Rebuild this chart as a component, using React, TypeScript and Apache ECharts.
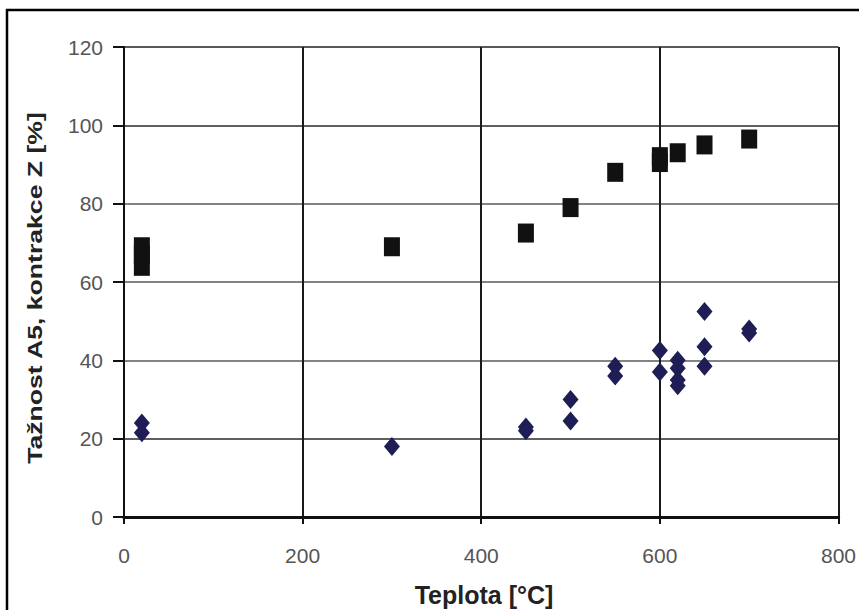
import React, { useEffect, useRef } from "react";
import * as echarts from "echarts";

// Data
const squareX = [20, 20, 20, 300, 450, 500, 550, 600, 600, 620, 650, 700];
const squareY = [69, 67, 64, 69, 72.5, 79, 88, 92, 90.5, 93, 95, 96.5];
const diamondX = [20, 20, 300, 450, 450, 500, 500, 550, 550, 600, 600, 620, 620, 620, 620, 650, 650, 650, 700, 700];
const diamondY = [24, 21.5, 18, 23, 22, 30, 24.5, 38.5, 36, 42.5, 37, 40, 38, 35, 33.5, 52.5, 43.5, 38.5, 48, 47];
const xTitle = "Teplota [°C]";
const yTitle = "Tažnost A5, kontrakce Z [%]";

const TICK_FONT = '"Liberation Sans Narrow", "Liberation Sans", Arial, sans-serif';
const TITLE_FONT = '"Liberation Sans", Arial, sans-serif';

export default function App() {
  const ref = useRef<HTMLDivElement>(null);

  useEffect(() => {
    if (!ref.current) return;
    const chart = echarts.init(ref.current, undefined, { renderer: "svg" });
    const squares = squareX.map((x, i) => [x, squareY[i]]);
    const diamonds = diamondX.map((x, i) => [x, diamondY[i]]);
    const tickLabel = { fontFamily: TICK_FONT, fontSize: 21, color: "#555" };

    chart.setOption({
      animation: false,
      backgroundColor: "#fff",
      grid: { left: 124, right: 19, top: 47, bottom: 93 },
      xAxis: [
        {
          type: "value",
          min: 0,
          max: 800,
          interval: 200,
          axisLine: { show: true, lineStyle: { color: "#111", width: 3 } },
          axisTick: { show: true, inside: false, length: 7, lineStyle: { color: "#111", width: 2 } },
          axisLabel: { ...tickLabel, margin: 28 },
          splitLine: { show: true, lineStyle: { color: "#1a1a1a", width: 2 } },
        },
        {
          type: "value",
          position: "top",
          min: 0,
          max: 800,
          interval: 200,
          axisLine: { show: true, lineStyle: { color: "#111", width: 3 } },
          axisTick: { show: false },
          axisLabel: { show: false },
          splitLine: { show: false },
        },
      ],
      yAxis: [
        {
          type: "value",
          min: 0,
          max: 120,
          interval: 20,
          axisLine: { show: true, lineStyle: { color: "#111", width: 2 } },
          axisTick: { show: true, inside: false, length: 11, lineStyle: { color: "#111", width: 2 } },
          axisLabel: { ...tickLabel, margin: 21 },
          splitLine: {
            show: true,
            lineStyle: { color: ["#222", "#2a2a2a", "#5a5a5a", "#5a5a5a", "#5a5a5a", "#2a2a2a", "#222"], width: 1.6 },
          },
        },
        {
          type: "value",
          position: "right",
          min: 0,
          max: 120,
          interval: 20,
          axisLine: { show: true, lineStyle: { color: "#111", width: 2 } },
          axisTick: { show: false },
          axisLabel: { show: false },
          splitLine: { show: false },
        },
      ],
      series: [
        {
          name: "Kontrakce Z",
          type: "scatter",
          xAxisIndex: 0,
          yAxisIndex: 0,
          symbol: "rect",
          symbolSize: [16, 19],
          itemStyle: { color: "#111", opacity: 1 },
          data: squares,
          z: 5,
        },
        {
          name: "Tažnost A5",
          type: "scatter",
          xAxisIndex: 0,
          yAxisIndex: 0,
          symbol: "diamond",
          symbolSize: [16, 19],
          itemStyle: { color: "#1f1d55", opacity: 1 },
          data: diamonds,
          z: 5,
        },
      ],
      graphic: [
        {
          type: "rect",
          silent: true,
          z: -1,
          shape: { x: 7, y: 10, width: 900, height: 700 },
          style: { fill: "none", stroke: "#000", lineWidth: 2.5 },
        },
        {
          type: "text",
          silent: true,
          x: 484,
          y: 595,
          style: {
            text: xTitle,
            fontFamily: TITLE_FONT,
            fontWeight: "bold",
            fontSize: 25,
            fill: "#222",
            align: "center",
            verticalAlign: "middle",
          },
        },
        {
          type: "text",
          silent: true,
          x: 35,
          y: 288,
          rotation: Math.PI / 2,
          scaleX: 1.33,
          style: {
            text: yTitle,
            fontFamily: TITLE_FONT,
            fontWeight: "bold",
            fontSize: 20,
            fill: "#222",
            align: "center",
            verticalAlign: "middle",
          },
        },
      ],
    });

    return () => chart.dispose();
  }, []);

  return (
    <div
      ref={ref}
      style={{ position: "fixed", left: 0, top: 0, width: 859, height: 610, background: "#fff" }}
    />
  );
}
